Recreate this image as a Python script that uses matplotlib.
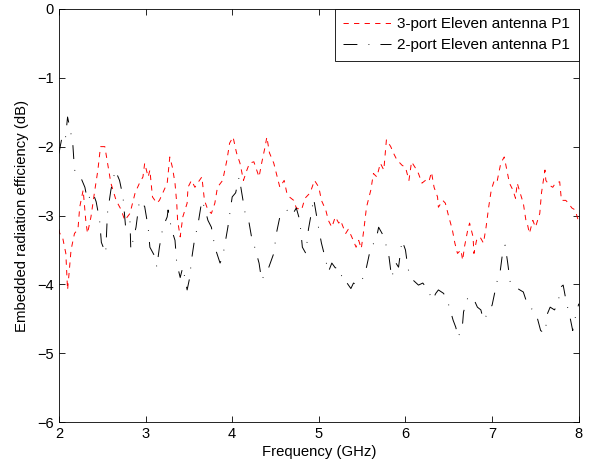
import numpy as np
import matplotlib
matplotlib.use('Agg')
import matplotlib.pyplot as plt

plt.rcParams['font.family'] = ['Liberation Sans', 'DejaVu Sans']
plt.rcParams['lines.scale_dashes'] = False

# 3-port Eleven antenna P1 (red)
freq_3p = [2.00, 2.01, 2.04, 2.08, 2.10, 2.12, 2.14, 2.18, 2.22, 2.24, 2.28, 2.31, 2.33, 2.37,
           2.41, 2.45, 2.48, 2.53, 2.57, 2.60, 2.66, 2.72, 2.76, 2.82, 2.88, 2.93, 2.97, 2.99,
           3.03, 3.05, 3.08, 3.13, 3.16, 3.20, 3.25, 3.28, 3.31, 3.34, 3.36, 3.37, 3.40, 3.43,
           3.48, 3.49, 3.53, 3.57, 3.60, 3.65, 3.68, 3.72, 3.76, 3.80, 3.83, 3.89, 3.94, 3.97,
           4.01, 4.05, 4.09, 4.13, 4.17, 4.20, 4.25, 4.31, 4.34, 4.38, 4.40, 4.43, 4.48, 4.51,
           4.55, 4.60, 4.63, 4.66, 4.71, 4.74, 4.80, 4.84, 4.90, 4.95, 5.00, 5.03, 5.08, 5.11,
           5.15, 5.19, 5.23, 5.25, 5.31, 5.34, 5.38, 5.43, 5.46, 5.49, 5.52, 5.55, 5.60, 5.63,
           5.67, 5.71, 5.75, 5.78, 5.83, 5.86, 5.90, 5.96, 6.00, 6.04, 6.07, 6.11, 6.15, 6.19,
           6.23, 6.27, 6.30, 6.33, 6.37, 6.38, 6.43, 6.46, 6.50, 6.54, 6.57, 6.60, 6.64, 6.66,
           6.68, 6.72, 6.74, 6.78, 6.79, 6.82, 6.86, 6.90, 6.93, 6.96, 6.99, 7.03, 7.06, 7.10,
           7.14, 7.17, 7.20, 7.24, 7.27, 7.29, 7.32, 7.36, 7.39, 7.41, 7.43, 7.47, 7.50, 7.55,
           7.57, 7.61, 7.62, 7.66, 7.70, 7.73, 7.78, 7.80, 7.85, 7.88, 7.92, 7.96, 8.00]
eff_3p = [-3.20, -3.26, -3.30, -3.55, -4.08, -3.80, -3.50, -3.26, -3.20, -2.88, -2.63, -3.07, -3.26, -3.02,
          -2.67, -2.34, -2.00, -2.00, -2.30, -2.53, -2.78, -2.92, -3.07, -2.97, -2.67, -2.53, -2.44, -2.24,
          -2.44, -2.34, -2.73, -2.82, -2.78, -2.67, -2.53, -2.15, -2.30, -2.53, -2.82, -3.07, -3.31, -3.02,
          -2.82, -2.59, -2.49, -2.59, -2.53, -2.44, -2.78, -2.92, -2.97, -2.82, -2.59, -2.49, -2.19, -1.95,
          -1.86, -2.09, -2.24, -2.49, -2.34, -2.24, -2.22, -2.44, -2.24, -2.00, -1.86, -2.09, -2.24, -2.39,
          -2.59, -2.49, -2.67, -2.73, -2.78, -2.89, -2.92, -2.75, -2.67, -2.49, -2.59, -2.78, -2.92, -3.07,
          -3.17, -3.02, -3.11, -3.07, -3.26, -3.20, -3.31, -3.46, -3.36, -3.48, -3.20, -2.88, -2.63, -2.39,
          -2.44, -2.24, -2.34, -1.90, -2.00, -2.09, -2.19, -2.27, -2.30, -2.49, -2.22, -2.30, -2.39, -2.53,
          -2.49, -2.51, -2.37, -2.59, -2.73, -2.88, -2.78, -2.82, -3.02, -3.20, -3.40, -3.55, -3.50, -3.65,
          -3.46, -3.20, -3.11, -3.31, -3.55, -3.36, -3.31, -3.40, -3.17, -2.88, -2.63, -2.47, -2.49, -2.24,
          -2.15, -2.34, -2.53, -2.63, -2.75, -2.53, -2.66, -2.82, -3.07, -3.14, -3.26, -3.07, -3.17, -2.97,
          -2.67, -2.34, -2.49, -2.56, -2.59, -2.53, -2.51, -2.78, -2.78, -2.82, -2.89, -2.92, -3.10]

# 2-port Eleven antenna P1 (black)
freq_2p = [2.00, 2.03, 2.07, 2.10, 2.13, 2.16, 2.18, 2.24, 2.30, 2.33, 2.39, 2.43, 2.47, 2.49,
           2.54, 2.56, 2.60, 2.65, 2.70, 2.74, 2.77, 2.82, 2.83, 2.89, 2.93, 2.99, 3.03, 3.05,
           3.11, 3.13, 3.16, 3.20, 3.25, 3.26, 3.30, 3.34, 3.36, 3.40, 3.43, 3.48, 3.51, 3.53,
           3.57, 3.60, 3.65, 3.68, 3.72, 3.76, 3.80, 3.86, 3.89, 3.91, 3.95, 4.00, 4.04, 4.08,
           4.11, 4.15, 4.19, 4.23, 4.26, 4.31, 4.34, 4.38, 4.42, 4.48, 4.51, 4.55, 4.60, 4.63,
           4.69, 4.74, 4.78, 4.81, 4.85, 4.88, 4.92, 4.94, 5.00, 5.03, 5.08, 5.11, 5.15, 5.19,
           5.23, 5.29, 5.32, 5.37, 5.40, 5.44, 5.48, 5.52, 5.55, 5.60, 5.66, 5.69, 5.73, 5.77,
           5.81, 5.84, 5.89, 5.92, 5.96, 6.00, 6.03, 6.09, 6.15, 6.20, 6.26, 6.31, 6.35, 6.38,
           6.44, 6.49, 6.55, 6.58, 6.61, 6.66, 6.67, 6.72, 6.78, 6.83, 6.87, 6.90, 6.95, 7.00,
           7.06, 7.09, 7.12, 7.15, 7.18, 7.21, 7.27, 7.32, 7.36, 7.41, 7.47, 7.52, 7.56, 7.61,
           7.64, 7.67, 7.72, 7.76, 7.79, 7.82, 7.86, 7.89, 7.93, 7.96, 8.00]
eff_2p = [-2.10, -1.90, -1.95, -1.57, -1.75, -1.95, -2.34, -2.41, -2.59, -2.78, -2.66, -2.80, -3.07, -3.39,
          -3.55, -2.97, -2.63, -2.34, -2.49, -2.73, -3.17, -3.07, -3.50, -3.17, -2.78, -2.87, -3.17, -3.46,
          -3.60, -3.75, -3.46, -3.17, -3.02, -2.92, -3.20, -3.36, -3.69, -3.90, -3.75, -4.08, -3.90, -3.65,
          -3.31, -3.17, -2.78, -2.88, -3.07, -3.17, -3.46, -3.69, -3.60, -3.46, -3.17, -2.73, -2.67, -2.44,
          -2.67, -2.97, -3.07, -3.36, -3.46, -3.69, -3.94, -3.84, -3.76, -3.55, -3.26, -3.02, -2.97, -2.92,
          -3.00, -2.89, -3.07, -3.46, -3.55, -3.20, -2.92, -2.75, -3.20, -3.40, -3.65, -3.82, -3.69, -3.76,
          -3.75, -3.98, -3.97, -4.06, -3.98, -4.01, -3.94, -3.90, -3.75, -3.46, -3.36, -3.17, -3.26, -3.40,
          -3.60, -3.90, -3.69, -3.75, -3.36, -3.50, -3.78, -3.94, -4.01, -3.98, -4.08, -4.23, -4.13, -4.08,
          -4.13, -4.26, -4.52, -4.62, -4.77, -4.56, -4.40, -4.19, -4.19, -4.33, -4.37, -4.52, -4.42, -4.30,
          -3.94, -3.84, -3.55, -3.43, -3.69, -3.98, -4.04, -4.08, -4.11, -4.30, -4.37, -4.48, -4.67, -4.71,
          -4.42, -4.33, -4.37, -4.28, -4.04, -4.01, -4.28, -4.42, -4.67, -4.48, -4.28]

fig = plt.figure(figsize=(6.01, 4.66), dpi=100)
ax = fig.add_axes([0.098, 0.094, 0.865, 0.887])

ax.plot(freq_3p, eff_3p, color='red', lw=0.7, dashes=(3.8, 3.8),
        label='3-port Eleven antenna P1')
ax.plot(freq_2p, eff_2p, color='black', lw=0.7, dashes=(10, 8, 0.6, 8),
        label='2-port Eleven antenna P1')

ax.set_xlim(2, 8)
ax.set_ylim(-6, 0)
ax.set_xticks(np.arange(2, 9, 1))
ax.set_yticks(np.arange(-6, 1, 1))
ax.tick_params(direction='in', top=True, right=True, labelsize=10.5, length=4, width=0.6)
for s in ax.spines.values():
    s.set_linewidth(0.6)
ax.set_xlabel('Frequency (GHz)', fontsize=10.7, labelpad=3)
ax.set_ylabel('Embedded radiation efficiency (dB)', fontsize=10.7, labelpad=6)

leg = ax.legend(loc='upper right', fontsize=11, fancybox=False, framealpha=1,
                edgecolor='black', borderaxespad=0, handlelength=3.1,
                handletextpad=0.45, borderpad=0.55, labelspacing=0.45)
leg.get_frame().set_linewidth(0.6)

fig.savefig('out.png', dpi=100)
